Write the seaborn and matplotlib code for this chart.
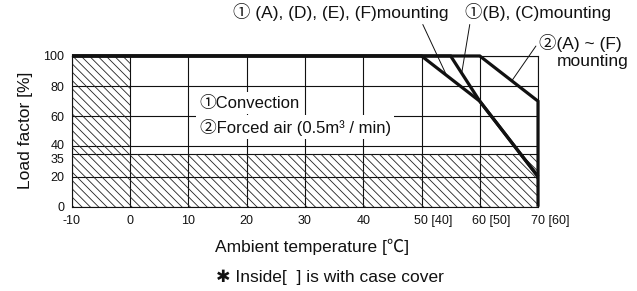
import numpy as np
import pandas as pd
import matplotlib
matplotlib.use("Agg")
import matplotlib.pyplot as plt
import matplotlib.transforms as mtransforms
import seaborn as sns

# -----------------------------
# Data
# -----------------------------
temp_ticks = [-10, 0, 10, 20, 30, 40, 50, 60, 70]
temp_labels = ["-10", "0", "10", "20", "30", "40", "50 [40]", "60 [50]", "70 [60]"]
load_ticks = [0, 20, 35, 40, 60, 80, 100]

# derating curves (temperature, load factor)
conv_adef_temp = [-10, 50, 60, 70]
conv_adef_load = [100, 100, 70, 20]
conv_bc_temp = [-10, 55, 60, 70]
conv_bc_load = [100, 100, 70, 20]
forced_temp = [-10, 60, 70, 70]
forced_load = [100, 100, 70, 0]

# hatched (not allowed) area outline
hatch_temp = [-10, 0, 0, 70]
hatch_load = [100, 100, 35, 35]

# -----------------------------
# Style
# -----------------------------
sns.set_theme(style="white")
plt.rcParams["font.family"] = ["Liberation Sans", "Noto Sans CJK JP", "DejaVu Sans"]
plt.rcParams["hatch.linewidth"] = 0.6

fig = plt.figure(figsize=(6.37, 2.91), dpi=100)
ax = fig.add_axes([0.113, 0.2897, 0.7316, 0.518])

# hatch
ax.fill_between(hatch_temp, 0, hatch_load, facecolor="none",
                edgecolor="#222222", hatch="\\\\\\\\", linewidth=0, zorder=1)

# curves
curves = pd.concat([
    pd.DataFrame({"temp": conv_adef_temp, "load": conv_adef_load, "curve": "conv_adef"}),
    pd.DataFrame({"temp": conv_bc_temp, "load": conv_bc_load, "curve": "conv_bc"}),
    pd.DataFrame({"temp": forced_temp, "load": forced_load, "curve": "forced"}),
], ignore_index=True)

sns.lineplot(data=curves, x="temp", y="load", hue="curve",
             palette=["#111111"] * 3, sort=False, estimator=None,
             linewidth=2.3, legend=False, ax=ax, zorder=5)
for ln in ax.lines:
    ln.set_clip_on(False)
    ln.set_solid_capstyle("butt")
    ln.set_solid_joinstyle("miter")

ax.set_xlim(-10, 70)
ax.set_ylim(0, 100)
ax.set_xticks(temp_ticks)
ax.set_xticklabels(temp_labels)
ax.set_yticks(load_ticks)
ax.grid(True, color="#111111", linewidth=0.8)
ax.tick_params(axis="both", length=0, labelsize=9, colors="#111111")
ax.tick_params(axis="x", pad=6)
ax.tick_params(axis="y", pad=5.5)
for sp in ax.spines.values():
    sp.set_color("#111111")
    sp.set_linewidth(0.8)

# labels like "50 [40]": keep the first number centred on the tick
shift = mtransforms.ScaledTranslation(-7.5 / 100, 0, fig.dpi_scale_trans)
for lab in ax.get_xticklabels()[6:]:
    lab.set_horizontalalignment("left")
    lab.set_transform(lab.get_transform() + shift)

# 35 and 40 sit close together: nudge them apart
ylabs = ax.get_yticklabels()
ylabs[2].set_transform(ylabs[2].get_transform() +
                       mtransforms.ScaledTranslation(0, -5 / 100, fig.dpi_scale_trans))
ylabs[3].set_transform(ylabs[3].get_transform() +
                       mtransforms.ScaledTranslation(0, 2 / 100, fig.dpi_scale_trans))

ax.set_xlabel("Ambient temperature [℃]", fontsize=12.5, color="#111111")
ax.xaxis.set_label_coords(0.515, -0.215)
ax.set_ylabel("Load factor [%]", fontsize=12.5, color="#111111")
ax.yaxis.set_label_coords(-0.084, 0.505)

# legend box
box = dict(facecolor="white", edgecolor="none", pad=2.5)
ax.text(11.9, 68.5, "①Convection", fontsize=12, ha="left", va="center",
        color="#111111", bbox=box, zorder=4)
ax.text(11.9, 52.7, "②Forced air (0.5m³ / min)", fontsize=12, ha="left",
        va="center", color="#111111", bbox=box, zorder=4)

# curve annotations
lead = dict(arrowstyle="-", color="#111111", lw=0.7, shrinkA=0, shrinkB=0)
x1 = 54.3
ax.annotate("① (A), (D), (E), (F)mounting",
            xy=(x1, np.interp(x1, conv_adef_temp, conv_adef_load)),
            xytext=(54.7, 129), ha="right", va="center", fontsize=12.5,
            color="#111111", annotation_clip=False,
            arrowprops=dict(lead, relpos=(0.87, 0.05)))
x2 = 56.9
ax.annotate("①(B), (C)mounting",
            xy=(x2, np.interp(x2, conv_bc_temp[:3], conv_bc_load[:3])),
            xytext=(57.4, 129), ha="left", va="center", fontsize=12.5,
            color="#111111", annotation_clip=False,
            arrowprops=dict(lead, relpos=(0.04, 0.05)))
x3 = 65.5
ax.annotate("②(A) ~ (F)",
            xy=(x3, np.interp(x3, forced_temp[:3], forced_load[:3])),
            xytext=(70.2, 108.5), ha="left", va="center", fontsize=12.5,
            color="#111111", annotation_clip=False,
            arrowprops=dict(lead, relpos=(0.0, 0.6)))
ax.text(73.3, 96.5, "mounting", ha="left", va="center", fontsize=12.5,
        color="#111111", clip_on=False)

fig.text(0.518, 0.048, "✱ Inside[  ] is with case cover", ha="center",
         va="center", fontsize=12.5, color="#111111")

fig.savefig("out.png", dpi=100)
